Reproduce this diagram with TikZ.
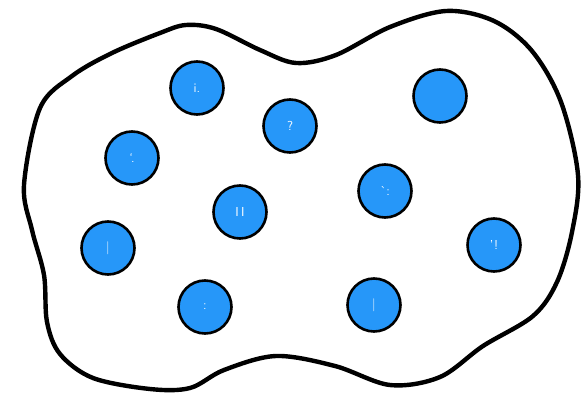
\documentclass[tikz,border=0pt]{standalone}
\usetikzlibrary{positioning}
\definecolor{dotblue}{HTML}{2697F9}
\tikzset{
  % contorno dell'insieme
  setline/.style={line width=4.4pt, black, line join=round},
  % elemento dell'insieme
  elem/.style={circle, draw=black, line width=2.6pt, fill=dotblue,
    inner sep=0pt, minimum size=53pt, text=white, font=\fontsize{13}{13}\sffamily},
}
\begin{document}
\begin{tikzpicture}[x=1pt, y=-1pt]
  \useasboundingbox (0,0) rectangle (583,398);
  % insieme
  \draw[setline] plot[smooth cycle, tension=0.55] coordinates {
    (24,185) (40,108) (72,76) (112,53) (160,33) (186,25) (216,29) (260,50)
    (296,63) (336,55) (390,27) (446,11) (494,21) (532,51) (561,102) (578,175)
    (572,232) (557,282) (533,316) (483,346) (440,377) (390,385) (335,366)
    (276,356) (224,370) (190,388) (150,389) (93,378) (60,354) (47,322)
    (44,275) (32,230)};
  % elementi
  \node[elem] (e1) at (197,88) {i.};
  \node[elem] (e2) at (290,126) {?};
  \node[elem] (e3) at (132,158) {`.};
  \node[elem] (e4) at (240,212) {I\,I};
  \node[elem] (e5) at (385,191) {\`{}:};
  \node[elem] (e6) at (108,248) {\textbar};
  \node[elem] (e7) at (205,307) {:};
  \node[elem] (e8) at (374,305) {\textbar};
  \node[elem] (e9) at (494,245) {'!};
  \node[elem] (e10) at (440,96) {};
\end{tikzpicture}
\end{document}
